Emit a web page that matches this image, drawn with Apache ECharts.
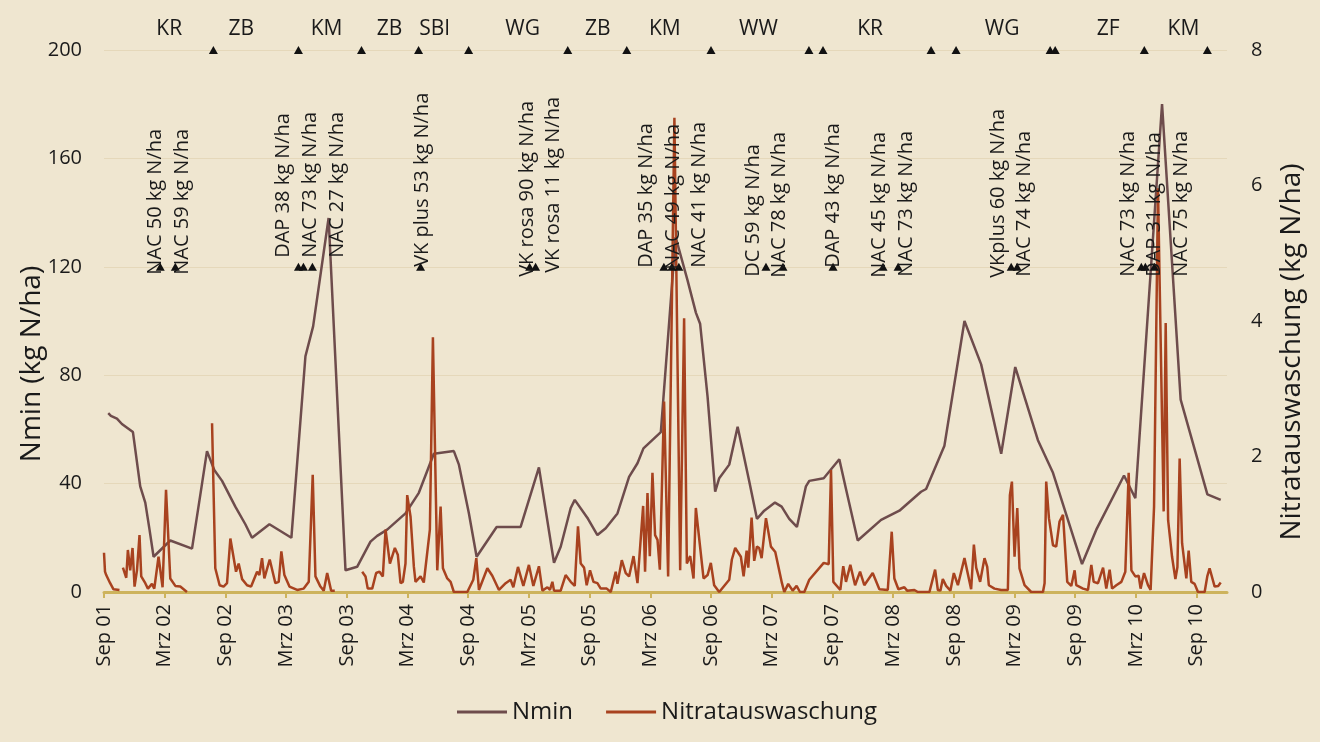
<!DOCTYPE html>
<html>
<head>
<meta charset="utf-8">
<script src="https://cdn.jsdelivr.net/npm/echarts@6/dist/echarts.min.js"></script>
<style>
html, body { margin: 0; padding: 0; background: #efe6d0; }
#chart { width: 1320px; height: 742px; }
</style>
</head>
<body>
<div id="chart"></div>
<script>
// x = months after Sep 2001
var nmin = [
  [0.42,66],[0.68,65],[1.28,64],[1.77,62],[2.86,59],[3.58,39],[4.08,33],[4.50,23],[4.90,13],
  [6.55,19],[8.70,16],[9.69,40],[10.18,52],[10.90,45],[11.67,41],[12.98,31.5],[13.97,25],
  [14.63,20],[16.35,25],[18.52,20],[19.91,87],[20.67,98],[22.2,138],[23.87,8],[25.02,9.3],
  [26.34,18.6],[27.00,20.7],[27.99,23],[29.80,29],[31.12,36.6],[32.60,51],[34.58,52],
  [35.08,47],[36.07,29],[36.83,13],[38.81,24],[41.18,24],[42.99,46],[44.48,10.8],[45.14,16.7],
  [46.13,31],[46.53,34],[47.84,27],[48.77,21],[49.59,23.5],[50.75,29],[51.90,42.5],[52.73,47.5],
  [53.32,53],[55.04,59],[56.5,131],[57.68,115],[58.51,103],[58.92,99],[59.66,72],[60.41,37],
  [60.81,42],[61.80,47],[62.63,61],[63.77,41],[64.54,27],[65.26,30],[66.32,33],[66.98,31.5],
  [67.73,27],[68.49,24],[69.38,39],[69.71,41],[71.14,42],[72.68,49],[73.34,38],[74.50,19],
  [76.81,26.6],[78.62,30],[80.76,37],[81.26,38],[83.07,54],[85.05,100],[86.70,84],[88.68,51],
  [90.07,83],[92.31,56],[93.80,44],[96.67,10.3],[98.08,23],[100.82,43],[101.94,34.6],
  [104.58,180],[106.42,71],[109.06,36],[110.38,34]
];

// null = no measurement (line break)
var nitrat = [
  [0,0.58],[0.1,0.30],[0.22,0.25],[0.61,0.13],[0.94,0.04],[1.53,0.03],[1.7,null],
  [1.87,0.36],[2.20,0.21],[2.36,0.62],[2.59,0.32],[2.82,0.65],[3.02,0.08],[3.26,0.32],
  [3.51,0.84],[3.68,0.23],[4.08,0.13],[4.34,0.05],[4.74,0.12],[4.97,0.05],[5.39,0.52],
  [5.79,0.07],[6.13,1.51],[6.55,0.20],[7.05,0.09],[7.54,0.08],[8.20,0.0],[9,null],
  [10.68,2.49],[11.00,0.35],[11.43,0.10],[11.82,0.08],[12.16,0.13],[12.49,0.79],[13.05,0.30],
  [13.31,0.42],[13.65,0.19],[14.14,0.10],[14.54,0.08],[15.13,0.30],[15.36,0.25],[15.62,0.50],
  [15.85,0.20],[16.38,0.48],[16.94,0.13],[17.27,0.15],[17.53,0.60],[17.83,0.25],[18.33,0.08],
  [19.09,0.03],[19.74,0.05],[20.24,0.15],[20.63,1.73],[20.90,0.23],[21.39,0.08],[21.72,0.02],
  [22.06,0.28],[22.45,0.02],[22.81,0.02],[24,null],
  [25.52,0.30],[25.85,0.23],[26.07,0.05],[26.51,0.05],[26.67,0.03],[26.90,0.28],[27.23,0.30],
  [27.56,0.23],[27.83,0.92],[28.26,0.42],[28.75,0.65],[29.04,0.55],[29.31,0.13],[29.54,0.15],
  [29.80,0.42],[29.97,1.43],[30.30,1.11],[30.63,0.37],[30.79,0.15],[31.29,0.23],[31.61,0.14],
  [31.78,0.15],[32.21,0.92],[32.51,3.76],[32.94,0.32],[33.27,1.26],[33.50,0.35],[33.93,0.20],
  [34.26,0.15],[34.58,0.0],[35.91,0.0],[36.50,0.18],[36.80,0.50],[37.06,0.03],[37.89,0.35],
  [38.38,0.24],[39.04,0.03],[39.70,0.13],[40.19,0.18],[40.46,0.07],[40.92,0.37],[41.45,0.09],
  [42.00,0.40],[42.44,0.09],[42.99,0.38],[43.33,0.02],[43.83,0.07],[44.08,0.03],[44.32,0.15],
  [44.48,0.02],[45.14,0.02],[45.63,0.25],[46.13,0.15],[46.53,0.09],[46.85,0.97],[47.12,0.42],
  [47.45,0.36],[47.71,0.10],[48.04,0.32],[48.38,0.15],[48.77,0.13],[49.10,0.05],[49.69,0.05],
  [50.09,0.0],[50.58,0.30],[50.75,0.12],[51.18,0.47],[51.57,0.28],[51.90,0.23],[52.34,0.53],
  [52.73,0.13],[53.29,1.27],[53.48,0.30],[53.72,1.46],[53.95,0.53],[54.21,1.76],[54.47,0.84],
  [54.71,0.77],[54.94,0.33],[55.36,2.81],[55.76,0.23],[56.38,7.0],[56.5,7.0],[56.95,0.32],
  [57.34,4.04],[57.61,0.42],[57.94,0.53],[58.27,0.20],[58.50,1.24],[59.26,0.20],[59.66,0.25],
  [59.98,0.43],[60.31,0.10],[60.81,0.0],[61.80,0.18],[62.06,0.48],[62.39,0.65],[62.95,0.52],
  [63.22,0.23],[63.52,0.61],[63.68,0.36],[64.01,1.10],[64.27,0.46],[64.54,0.67],[64.76,0.65],
  [65.00,0.50],[65.43,1.09],[65.92,0.67],[66.35,0.59],[67.01,0.13],[67.24,0.0],[67.63,0.12],
  [68.07,0.02],[68.46,0.09],[68.79,0.0],[69.22,0.0],[69.71,0.18],[71.14,0.43],[71.63,0.41],
  [71.86,1.80],[72.09,0.15],[72.78,0.03],[73.07,0.38],[73.34,0.15],[73.77,0.40],[74.24,0.10],
  [74.73,0.30],[75.15,0.10],[75.98,0.28],[76.64,0.04],[77.47,0.03],[77.63,0.05],[77.86,0.89],
  [78.12,0.20],[78.52,0.04],[79.11,0.07],[79.38,0.02],[80.10,0.03],[80.44,0.0],[81.59,0.0],
  [82.15,0.33],[82.42,0.03],[82.67,0.02],[82.91,0.19],[83.24,0.09],[83.66,0.02],[84.00,0.28],
  [84.40,0.10],[85.05,0.50],[85.71,0.04],[85.98,0.70],[86.21,0.36],[86.60,0.15],[86.77,0.16],
  [87.03,0.50],[87.30,0.37],[87.46,0.10],[88.02,0.05],[88.68,0.03],[89.34,0.03],[89.54,1.43],
  [89.74,1.63],[90.00,0.52],[90.27,1.24],[90.49,0.35],[90.99,0.10],[91.65,0.0],[92.81,0.0],
  [92.97,0.13],[93.13,1.63],[93.40,1.09],[93.80,0.69],[94.12,0.67],[94.45,1.04],[94.79,1.14],
  [95.21,0.15],[95.61,0.09],[95.94,0.32],[96.10,0.10],[96.77,0.05],[97.26,0.03],[97.59,0.40],
  [97.82,0.15],[98.25,0.13],[98.75,0.36],[99.07,0.05],[99.40,0.33],[99.64,0.05],[100.06,0.10],
  [100.56,0.15],[100.95,0.30],[101.28,1.76],[101.55,0.32],[101.94,0.23],[102.27,0.24],
  [102.46,0.05],[102.80,0.28],[103.19,0.10],[103.45,0.03],[103.79,1.26],[104.18,5.96],
  [104.74,1.19],[104.94,3.97],[105.18,1.06],[105.57,0.52],[105.90,0.19],[106.10,0.37],
  [106.32,1.97],[106.56,0.72],[106.98,0.20],[107.21,0.61],[107.47,0.15],[107.80,0.12],
  [108.13,0.0],[108.79,0.0],[109.05,0.23],[109.28,0.35],[109.78,0.08],[110.13,0.09],[110.38,0.14]
];

var cropNames = ['KR','ZB','KM','ZB','SBl','WG','ZB','KM','WW','KR','WG','ZF','KM'];
var cropMid = [6.45,13.57,22.0,28.22,32.67,41.38,48.8,55.43,64.68,75.72,88.78,99.26,106.69];
var cropChange = [10.81,19.22,25.45,31.09,36.04,45.84,51.67,60.0,69.68,71.07,81.75,84.22,93.52,94.02,102.83,109.06];

var fertDates = [5.56,7.05,19.22,19.71,20.6,31.29,42.07,42.66,55.34,56.13,56.82,65.43,67.11,72.06,77.0,78.49,89.67,90.26,102.53,102.93,103.82];
var fertText = [
  'NAC 50 kg N/ha','NAC 59 kg N/ha','DAP 38 kg N/ha','NAC 73 kg N/ha','NAC 27 kg N/ha',
  'VK plus 53 kg N/ha','VK rosa 90 kg N/ha','VK rosa 11 kg N/ha','DAP 35 kg N/ha',
  'NAC 49 kg N/ha','NAC 41 kg N/ha','DC 59 kg N/ha','NAC 78 kg N/ha','DAP 43 kg N/ha',
  'NAC 45 kg N/ha','NAC 73 kg N/ha','VKplus 60 kg N/ha','NAC 74 kg N/ha','NAC 73 kg N/ha',
  'DAP 31 kg N/ha','NAC 75 kg N/ha'
];

// label placement (px) relative to the marker
var labelShift = [[-5,8],[7,8],[-15,-9],[7,-9],[25,-9],[2,0],[-2,10],[18,6],[-18,1],[1,3],[20,1],
  [-13,10],[-4,11],[0,1],[-4,11],[8,10],[-13,11],[7,10],[-13,10],[9,10],[27,10]];

var font = '"Open Sans", "Noto Sans", sans-serif';
var ink = '#1a1a1a';
var tickMonths = [];
for (var m = 0; m <= 108; m += 6) tickMonths.push(m);

function monthLabel(v) {
  var t = 8 + v;
  var yr = 2001 + Math.floor(t / 12);
  return (t % 12 === 8 ? 'Sep ' : 'Mrz ') + String(yr).slice(2);
}

var chart = echarts.init(document.getElementById('chart'));
chart.setOption({
  animation: false,
  backgroundColor: '#efe6d0',
  grid: { left: 104, right: 93, top: 50, bottom: 150 },
  legend: {
    left: 452, top: 695,
    data: ['Nmin', 'Nitratauswaschung'],
    icon: 'rect', itemWidth: 50, itemHeight: 3, itemGap: 33,
    textStyle: { fontFamily: font, fontSize: 24, color: ink }
  },
  graphic: [{
    type: 'text', x: 32, y: 364, rotation: Math.PI / 2,
    style: { text: 'Nmin (kg N/ha)', font: '28px "Open Sans"', fill: ink, textAlign: 'center', textVerticalAlign: 'middle' }
  }, {
    type: 'text', x: 1292, y: 352, rotation: Math.PI / 2,
    style: { text: 'Nitratauswaschung (kg N/ha)', font: '28px "Open Sans"', fill: ink, textAlign: 'center', textVerticalAlign: 'middle' }
  }],
  xAxis: {
    type: 'value', min: 0, max: 111, interval: 6,
    axisLine: { lineStyle: { color: '#cdb35c', width: 3 } },
    axisTick: { show: true, length: 6, customValues: tickMonths, lineStyle: { color: '#cdb35c', width: 2 } },
    axisLabel: {
      rotate: 90, margin: 12, customValues: tickMonths,
      fontFamily: font, fontSize: 20, color: ink,
      formatter: monthLabel
    },
    splitLine: { show: false }
  },
  yAxis: [{
    type: 'value', min: 0, max: 200, interval: 40,
    axisLine: { show: false }, axisTick: { show: false },
    axisLabel: { fontFamily: font, fontSize: 20, color: ink, margin: 22 },
    splitLine: { lineStyle: { color: 'rgba(205,185,135,0.3)', width: 1 } }
  }, {
    type: 'value', min: 0, max: 8, interval: 2,
    axisLine: { show: false }, axisTick: { show: false },
    axisLabel: { fontFamily: font, fontSize: 20, color: ink, margin: 24 },
    splitLine: { show: false }
  }],
  series: [{
    name: 'Nmin', type: 'line', yAxisIndex: 0, data: nmin,
    symbol: 'none', color: '#6e4c4c',
    lineStyle: { width: 2.5, color: '#6e4c4c' }, z: 2
  }, {
    name: 'Nitratauswaschung', type: 'line', yAxisIndex: 1, data: nitrat,
    symbol: 'none', connectNulls: false, color: '#a8421f',
    lineStyle: { width: 2.5, color: '#a8421f' }, z: 3
  }, {
    type: 'scatter', yAxisIndex: 0, clip: false, z: 5,
    symbol: 'triangle', symbolSize: [9, 8], itemStyle: { color: '#111', opacity: 1 },
    data: cropChange.map(function (m) { return [m, 200]; })
  }, {
    type: 'scatter', yAxisIndex: 0, clip: false, z: 5, symbolSize: 0,
    itemStyle: { opacity: 1 },
    data: cropMid.map(function (m, i) { return { value: [m, 200], name: cropNames[i] }; }),
    label: {
      show: true, position: 'top', distance: 10, formatter: '{b}',
      fontFamily: font, fontSize: 21, color: ink, opacity: 1
    }
  }, {
    type: 'scatter', yAxisIndex: 0, clip: false, z: 6,
    symbol: 'triangle', symbolSize: [9, 8], itemStyle: { color: '#111', opacity: 1 },
    data: fertDates.map(function (m, i) {
      return {
        value: [m, 120], name: fertText[i],
        label: { position: [4.5 + labelShift[i][0], 4 + labelShift[i][1]] }
      };
    }),
    label: {
      show: true, formatter: '{b}', rotate: 90, align: 'left', verticalAlign: 'middle',
      fontFamily: font, fontSize: 20, color: ink, opacity: 1
    }
  }]
});
</script>
</body>
</html>
